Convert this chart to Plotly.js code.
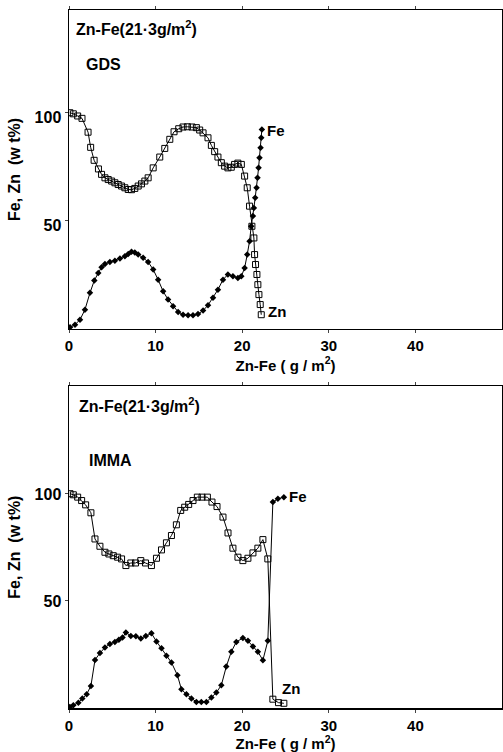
<!DOCTYPE html>
<html><head><meta charset="utf-8">
<script src="https://cdn.plot.ly/plotly-3.0.1.min.js"></script>
<style>body{margin:0;background:#fff}#chart{width:503px;height:752px}</style>
</head><body><div id="chart"></div>
<script>
// ---- GDS (top) ----
const gdsZnX = [0.1,0.5,1.0,1.5,2.2,2.5,2.9,3.4,3.76,4.15,4.53,4.92,5.3,5.68,6.07,6.45,6.84,7.22,7.6,7.99,8.37,8.76,9.14,9.72,10.48,11.06,11.64,12.13,12.67,13.17,13.67,14.21,14.71,15.09,15.48,16.05,16.44,16.82,17.2,17.59,17.97,18.35,18.74,19.12,19.5,19.9,20.28,20.58,20.85,21.12,21.35,21.43,21.54,21.7,21.81,21.93,22.08,22.2];
const gdsZnY = [100,99.5,98.5,97.4,91,84,78,74,71.5,69.9,69.1,68.4,67.6,66.8,66.1,65.3,64.5,64.4,65,66.1,67.1,68.4,69.9,74.5,79.5,83.5,87.7,91.2,92.6,93.4,93.5,93.4,93.1,92,90.7,88.4,84.9,82,79.5,76.9,75.3,74.5,74.8,76.1,76.7,76.1,70.7,65.3,56.8,47.5,42.1,34.4,29.8,25.2,20.5,15.9,11.3,6.6];
const gdsFeX = [0.12,0.69,1.27,1.84,2.42,2.92,3.38,3.76,4.15,4.72,5.3,5.88,6.45,6.84,7.22,7.6,7.99,8.56,9.14,9.72,10.29,10.87,11.44,12.02,12.6,13.17,13.75,14.32,14.9,15.48,16.05,16.63,17.2,17.78,18.35,18.93,19.5,19.9,20.28,20.58,20.85,21.04,21.24,21.35,21.5,21.66,21.77,21.89,22.0,22.12,22.2,22.27];
const gdsFeY = [0.8,2,4.3,8.9,16.7,22.4,25.9,28.5,30.1,31,31.6,32.6,33.6,34.7,35.7,35.4,34.4,32.9,31,27.5,22.8,17.4,13.6,10.5,7.9,6.6,6.3,6.3,6.9,8.5,11,14.4,18.2,22.8,25.2,24.4,23.6,24.4,28.2,34.4,40.6,47.5,52.2,56,60.7,65.3,69.9,74.5,79.2,83.8,88.4,92.3];
// ---- IMMA (bottom) ----
const immaZnX = [0.12,0.5,1.0,1.46,1.92,2.53,3.0,3.57,4.15,4.61,5.11,5.61,6.07,6.57,7.14,7.68,8.29,8.83,9.52,10.1,10.68,11.25,11.83,12.4,12.9,13.36,13.82,14.32,14.82,15.36,15.98,16.51,17.09,17.78,18.36,18.93,19.51,20.08,20.66,21.24,21.81,22.39,22.96,23.54,24.19,24.81];
const immaZnY = [99.9,99.4,98.3,96.7,94.7,91,78.8,75.4,72.6,71.8,71,70.3,69.5,66.4,67.6,67.6,68.7,67.6,66.4,69.8,73.7,77,80.4,85.4,92.1,93.6,94.9,96.7,98.3,98.3,98.3,96,93.9,89,81.6,74.5,70.3,68.7,69.8,72.3,74.5,78.5,69.5,4.1,2.5,2.2];
const immaFeX = [0.1,0.5,1.08,1.54,2.04,2.53,3.0,3.57,4.15,4.72,5.3,5.76,6.18,6.57,7.14,7.72,8.29,8.87,9.52,10.1,10.68,11.25,11.83,12.52,12.98,13.56,14.13,14.71,15.28,15.86,16.44,17.01,17.59,18.16,18.74,19.32,20.08,20.66,21.24,21.81,22.39,22.96,23.54,24.12,24.81];
const immaFeY = [0.5,1.3,2.5,4.4,6.4,10.3,22.4,25.6,28.2,29.8,30.8,31.8,32.9,35.2,33.6,33.4,32.4,33.6,34.8,31,27.8,24.3,21.2,15.3,8.7,6.4,4.4,2.8,2.8,2.8,4.9,7.2,10.6,19.3,26.2,30.8,32.6,31.3,28.7,26.2,22.3,31.3,96,97.5,98.3];
const xTicks = [0,10,20,30,40];
const yTicks = [50,100];

const F = 'Liberation Sans, Arial, sans-serif';
const lineS = {color:'#000', width:1};
function znTrace(x,y,xa,ya){return {x:x,y:y,xaxis:xa,yaxis:ya,mode:'lines+markers',line:lineS,
  marker:{symbol:'square-open',size:6,color:'#000',line:{width:1,color:'#000'}},hoverinfo:'skip'};}
function feTrace(x,y,xa,ya){return {x:x,y:y,xaxis:xa,yaxis:ya,mode:'lines+markers',line:lineS,
  marker:{symbol:'diamond',size:5,color:'#000'},hoverinfo:'skip'};}

const data = [znTrace(gdsZnX,gdsZnY,'x','y'),feTrace(gdsFeX,gdsFeY,'x','y'),
              znTrace(immaZnX,immaZnY,'x2','y2'),feTrace(immaFeX,immaFeY,'x2','y2')];

function xax(anchor){return {range:[0,50],tickvals:xTicks,ticks:'outside',ticklen:3,tickwidth:1,
  showline:true,linecolor:'#000',linewidth:1.5,mirror:'ticks',zeroline:false,showgrid:false,anchor:anchor,
  tickfont:{family:F,size:15,color:'#000',weight:'bold'},
  title:{text:'<b>Zn-Fe ( g / m<sup>2</sup>)</b>',font:{family:F,size:15,color:'#000'},standoff:1}};}
function yax(anchor,domain,range,shift){return {domain:domain,range:range,tickvals:yTicks,ticks:'outside',ticklen:3,tickwidth:1,
  showline:true,linecolor:'#000',linewidth:1.5,mirror:'ticks',zeroline:false,showgrid:false,anchor:anchor,
  ticklabelshift:shift,
  tickfont:{family:F,size:16,color:'#000',weight:'bold'},
  title:{text:'<b>Fe, Zn  (w t%)</b>',font:{family:F,size:16,color:'#000'},standoff:10}};}

const tf = {family:F,size:16,color:'#000'};
const lf = {family:F,size:15,color:'#000'};
const layout = {
  width:503,height:752,margin:{l:69,r:1,t:10,b:44},paper_bgcolor:'#fff',plot_bgcolor:'#fff',showlegend:false,
  xaxis:xax('y'), yaxis:yax('x',[0.543,1],[0,147.5],5),
  xaxis2:xax('y2'), yaxis2:yax('x2',[0,0.461],[0,150],1),
  annotations:[
    {xref:'x domain',yref:'y domain',x:0.012,y:0.944,xanchor:'left',yanchor:'middle',showarrow:false,text:'<b>Zn-Fe(21·3g/m<sup>2</sup>)</b>',font:tf},
    {xref:'x domain',yref:'y domain',x:0.035,y:0.828,xanchor:'left',yanchor:'middle',showarrow:false,text:'<b>GDS</b>',font:tf},
    {xref:'x',yref:'y',x:22.6,y:92,xanchor:'left',yanchor:'middle',showarrow:false,text:'<b>Fe</b>',font:lf},
    {xref:'x',yref:'y',x:22.8,y:8.3,xanchor:'left',yanchor:'middle',showarrow:false,text:'<b>Zn</b>',font:lf},
    {xref:'x2 domain',yref:'y2 domain',x:0.018,y:0.941,xanchor:'left',yanchor:'middle',showarrow:false,text:'<b>Zn-Fe(21·3g/m<sup>2</sup>)</b>',font:tf},
    {xref:'x2 domain',yref:'y2 domain',x:0.042,y:0.77,xanchor:'left',yanchor:'middle',showarrow:false,text:'<b>IMMA</b>',font:tf},
    {xref:'x2',yref:'y2',x:25.2,y:98.4,xanchor:'left',yanchor:'middle',showarrow:false,text:'<b>Fe</b>',font:lf},
    {xref:'x2',yref:'y2',x:24.4,y:9,xanchor:'left',yanchor:'middle',showarrow:false,text:'<b>Zn</b>',font:lf}
  ]
};
Plotly.newPlot('chart',data,layout,{displayModeBar:false,staticPlot:true});
</script></body></html>
